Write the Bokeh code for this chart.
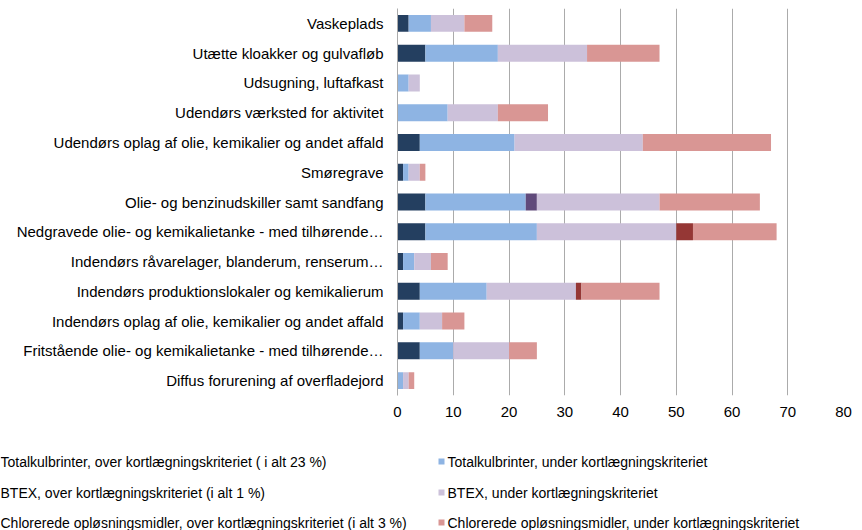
from bokeh.plotting import figure
from bokeh.models import FactorRange, Range1d, SingleIntervalTicker, ColumnDataSource
from bokeh.core.properties import value
from bokeh.embed import file_html
from bokeh.resources import INLINE

FONT = "Liberation Sans"

categories = [
    "Vaskeplads",
    "Utætte kloakker og gulvafløb",
    "Udsugning, luftafkast",
    "Udendørs værksted for aktivitet",
    "Udendørs oplag af olie, kemikalier og andet affald",
    "Smøregrave",
    "Olie- og benzinudskiller samt sandfang",
    "Nedgravede olie- og kemikalietanke - med tilhørende…",
    "Indendørs råvarelager, blanderum, renserum…",
    "Indendørs produktionslokaler og kemikalierum",
    "Indendørs oplag af olie, kemikalier og andet affald",
    "Fritstående olie- og kemikalietanke - med tilhørende…",
    "Diffus forurening af overfladejord",
]

total_over = [2, 5, 0, 0, 4, 1, 5, 5, 1, 4, 1, 4, 0]
total_under = [4, 13, 2, 9, 17, 1, 18, 20, 2, 12, 3, 6, 1]
btex_over = [0, 0, 0, 0, 0, 0, 2, 0, 0, 0, 0, 0, 0]
btex_under = [6, 16, 2, 9, 23, 2, 22, 25, 3, 16, 4, 10, 1]
chlor_over = [0, 0, 0, 0, 0, 0, 0, 3, 0, 1, 0, 0, 0]
chlor_under = [5, 13, 0, 9, 23, 1, 18, 15, 3, 14, 4, 5, 1]

series_names = [
    "Totalkulbrinter, over kortlægningskriteriet ( i alt 23 %)",
    "Totalkulbrinter, under kortlægningskriteriet",
    "BTEX, over kortlægningskriteriet (i alt 1 %)",
    "BTEX, under kortlægningskriteriet",
    "Chlorerede opløsningsmidler, over kortlægningskriteriet (i alt 3 %)",
    "Chlorerede opløsningsmidler, under kortlægningskriteriet",
]
colors = ["#243F60", "#8EB4E3", "#604A7B", "#CCC1DA", "#953735", "#D99694"]
x_max = 80
x_ticks_interval = 10

keys = ["total_over", "total_under", "btex_over", "btex_under", "chlor_over", "chlor_under"]
source = ColumnDataSource(dict(
    cat=categories,
    total_over=total_over, total_under=total_under,
    btex_over=btex_over, btex_under=btex_under,
    chlor_over=chlor_over, chlor_under=chlor_under,
))

W = 862
CHART_H, LEGEND_H = 430, 100
F_LEFT, F_RIGHT, F_TOP, F_BOTTOM = 397, 843, 8, 395

p = figure(
    width=W, height=CHART_H,
    y_range=FactorRange(factors=list(reversed(categories)), range_padding=0),
    x_range=Range1d(0, x_max),
    output_backend="svg", toolbar_location=None,
    min_border_left=F_LEFT, min_border_right=W - F_RIGHT,
    min_border_top=F_TOP, min_border_bottom=CHART_H - F_BOTTOM,
)
p.hbar_stack(keys, y="cat", height=0.57, color=colors, line_color=None, source=source)

p.outline_line_color = None
p.ygrid.grid_line_color = None
p.xgrid.grid_line_color = "#ABABAB"
p.xaxis.ticker = SingleIntervalTicker(interval=x_ticks_interval)
p.xaxis.axis_line_color = None
p.xaxis.major_tick_line_color = None
p.xaxis.minor_tick_line_color = None
p.xaxis.major_tick_out = 0
p.xaxis.major_label_standoff = 7
p.xaxis.major_label_text_font = FONT
p.xaxis.major_label_text_font_size = "15px"
p.xaxis.major_label_text_color = "#000000"

p.yaxis.axis_line_color = "#ABABAB"
p.yaxis.major_tick_line_color = None
p.yaxis.major_tick_out = 0
p.yaxis.major_label_standoff = 14
p.yaxis.major_label_text_font = FONT
p.yaxis.major_label_text_font_size = "15px"
p.yaxis.major_label_text_color = "#000000"

# legend panel: a second root whose frame covers its whole canvas (1 unit = 1 px)
lg = figure(
    width=W, height=LEGEND_H,
    x_range=Range1d(0, W), y_range=Range1d(LEGEND_H, 0),
    output_backend="svg", toolbar_location=None,
    min_border=0,
)
lg.axis.visible = False
lg.grid.visible = False
lg.outline_line_color = None

left_names = series_names[0::2]
right_names = series_names[1::2]
right_colors = colors[1::2]
row_y = [31, 62, 92]
LEG_SIZE = "14px"

lg.text(x=[0] * 3, y=row_y, text=left_names, text_font=value(FONT),
        text_font_size=LEG_SIZE, text_baseline="middle", text_align="left", text_color="#000000")
lg.rect(x=[441] * 3, y=row_y, width=6, height=6, fill_color=right_colors, line_color=None)
lg.text(x=[447] * 3, y=row_y, text=right_names, text_font=value(FONT),
        text_font_size=LEG_SIZE, text_baseline="middle", text_align="left", text_color="#000000")

html = file_html((p, lg), INLINE)
html = html.replace("<head>", "<head><style>html, body {margin:0; padding:0;}</style>", 1)
open("out.html", "w").write(html)
